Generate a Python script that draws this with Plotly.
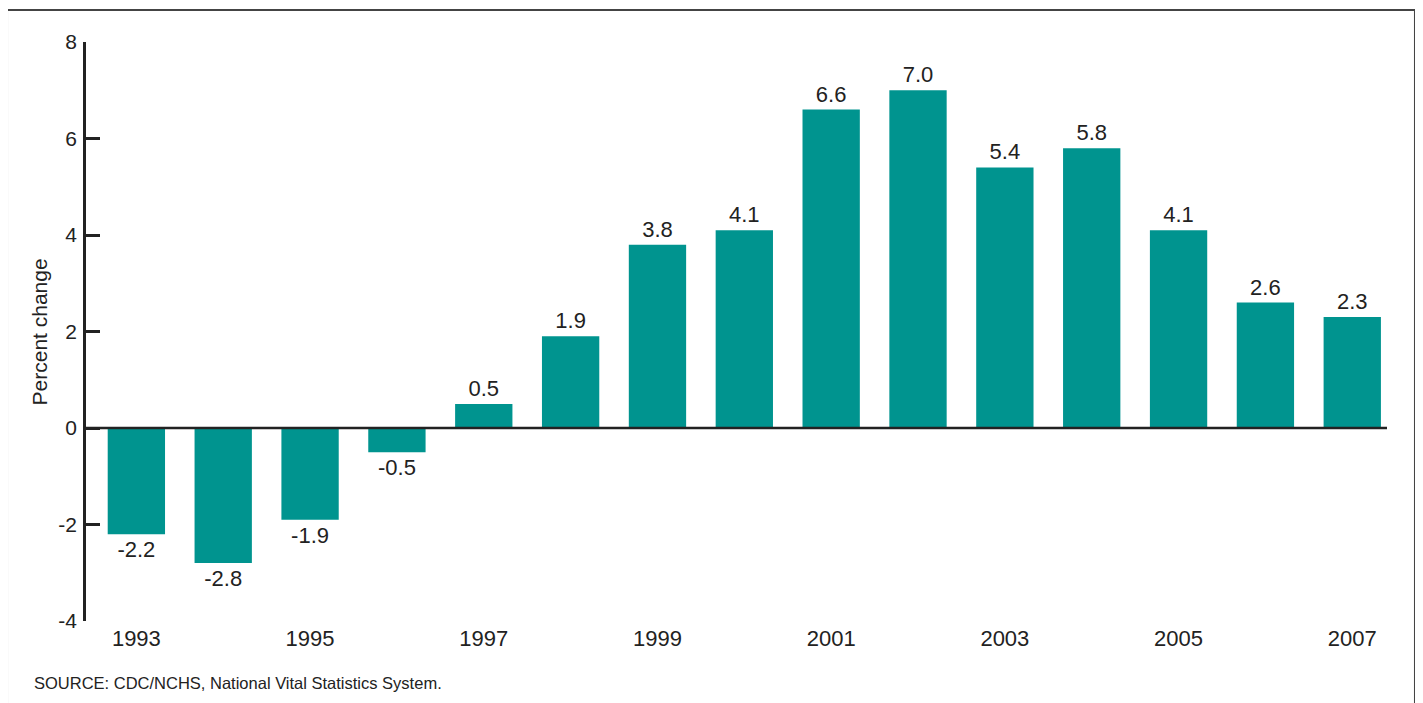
import plotly.graph_objects as go

years = list(range(1993, 2008))
values = [-2.2, -2.8, -1.9, -0.5, 0.5, 1.9, 3.8, 4.1, 6.6, 7.0, 5.4, 5.8, 4.1, 2.6, 2.3]
x_ticks = [1993, 1995, 1997, 1999, 2001, 2003, 2005, 2007]
y_ticks = [-4, -2, 0, 2, 4, 6, 8]

labels = [f"{v:.1f}" for v in values]
font = "Liberation Sans, Arial, sans-serif"

fig = go.Figure(go.Bar(
    x=years, y=values, width=0.66,
    marker=dict(color="#00948F", line=dict(width=0)),
    text=labels, textposition="outside", cliponaxis=False,
    textfont=dict(family=font, size=22, color="#222"),
))

# page body has an 8px margin, so the figure is offset by 8px
fig.update_layout(
    width=1415, height=695,
    margin=dict(l=78, r=36, t=34, b=82),
    plot_bgcolor="white", paper_bgcolor="white",
    showlegend=False,
    font=dict(family=font, color="#222"),
    xaxis=dict(range=[1992.42, 2007.4], tickvals=x_ticks, ticktext=[str(t) for t in x_ticks],
               showgrid=False, zeroline=False, showline=False, ticks="",
               tickfont=dict(size=22, color="#222"), ticklabelstandoff=2),
    yaxis=dict(range=[-4, 8], tickvals=y_ticks, ticktext=[str(t) for t in y_ticks],
               showgrid=False, zeroline=False, showline=True, linecolor="#222", linewidth=2.5,
               ticks="inside", ticklen=14, tickwidth=2.5, tickcolor="#222",
               tickfont=dict(size=21, color="#222"), ticklabelstandoff=2),
    shapes=[
        dict(type="line", xref="x", yref="y", x0=1992.42, x1=2007.4, y0=0, y1=0,
             line=dict(color="#222", width=2.5)),
        dict(type="rect", xref="paper", yref="paper", x0=-0.0607, x1=1.0215, y0=-0.3, y1=1.0553,
             line=dict(color="#444", width=2)),
    ],
    annotations=[
        dict(text="Percent change", xref="paper", yref="paper", x=-0.0354, y=0.5,
             textangle=-90, showarrow=False, font=dict(size=21, color="#222"),
             xanchor="center", yanchor="middle"),
        dict(text="SOURCE: CDC/NCHS, National Vital Statistics System.", xref="paper", yref="paper",
             x=(32 - 86) / 1301, y=-(683 - 621) / 579, xanchor="left", yanchor="middle",
             showarrow=False, font=dict(size=16.5, color="#222")),
    ],
)

fig.write_html("out.html")
